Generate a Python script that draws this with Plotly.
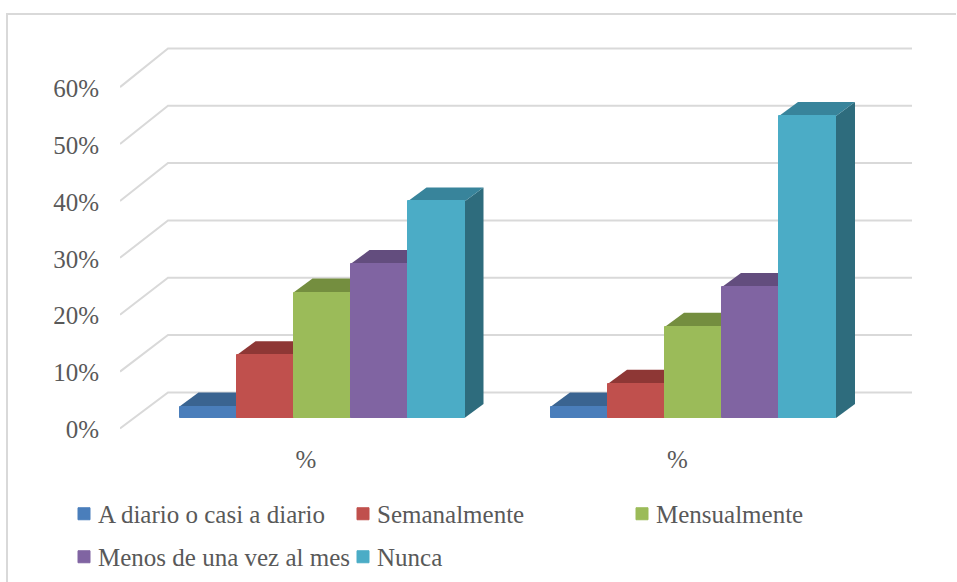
import plotly.graph_objects as go

# ---- data ----
groups = [0, 1]
group_labels = ["%", "%"]
series_names = ["A diario o casi a diario", "Semanalmente", "Mensualmente",
                "Menos de una vez al mes", "Nunca"]
diario = [2, 2]
semanal = [11, 6]
mensual = [22, 16]
menos = [27, 23]
nunca = [38, 53]
series_values = [diario, semanal, mensual, menos, nunca]
face_colors = ["#4A7EBB", "#C0504D", "#9BBB59", "#8064A2", "#4BACC6"]
top_colors = ["#3A6491", "#8E3735", "#748E3F", "#634D7E", "#38849B"]
side_colors = ["#315477", "#772E2C", "#617735", "#533F6A", "#2E6C7D"]
y_ticks = [0, 10, 20, 30, 40, 50, 60]
y_labels = ["0%", "10%", "20%", "30%", "40%", "50%", "60%"]

# ---- layout geometry (pixels of the 957x582 page) ----
W, H = 957, 582
L, R, T, B = 120, 930, 30, 432
GROUP_PX = 371.5
FRONT_UNIT_PX = 5.69     # pixels per 1 % on the front plane
BAR_UNIT_PX = 5.70       # pixels per 1 % on the bar plane
BACK_UNIT_PX = 5.733     # pixels per 1 % on the back wall
FRONT_X0, BAR_X0 = 306, 322   # pixel of group 0 on the front plane / bar plane
FRONT_Y0, BAR_Y0 = 428.5, 418  # pixel of 0 % on the front plane / bar plane
BACK_Y0 = 392.4          # pixel of 0 % on the back wall
BAR_FRAC = 57.0 / GROUP_PX
DX = 19 / GROUP_PX       # bar depth
DY = 14 / BAR_UNIT_PX
WALL_DX = 48 / GROUP_PX  # floor depth
WALL_END = (912 - FRONT_X0) / GROUP_PX

GRID = "#D9D9D9"
TEXT = "#595959"
FONT = "Liberation Serif"

xr_front = [(L - FRONT_X0) / GROUP_PX, (R - FRONT_X0) / GROUP_PX]
xr_bar = [(L - BAR_X0) / GROUP_PX, (R - BAR_X0) / GROUP_PX]
yr_front = [(FRONT_Y0 - B) / FRONT_UNIT_PX, (FRONT_Y0 - T) / FRONT_UNIT_PX]
yr_bar = [(BAR_Y0 - B) / BAR_UNIT_PX, (BAR_Y0 - T) / BAR_UNIT_PX]

fig = go.Figure()

# gridlines: side wall diagonal + back wall, on the front plane axes
for t in y_ticks:
    back = (FRONT_Y0 - (BACK_Y0 - BACK_UNIT_PX * t)) / FRONT_UNIT_PX
    fig.add_trace(go.Scatter(
        x=[xr_front[0], xr_front[0] + WALL_DX, WALL_END],
        y=[t, back, back],
        mode="lines", line=dict(color=GRID, width=2),
        hoverinfo="skip", showlegend=False, xaxis="x", yaxis="y"))

# bars: depth faces + front face, per series from back-left to right
n = len(series_values)
span = n * BAR_FRAC
for i, vals in enumerate(series_values):
    xs = [g - span / 2 + (i + 0.5) * BAR_FRAC for g in groups]
    for x, v in zip(xs, vals):
        x0, x1 = x - BAR_FRAC / 2, x + BAR_FRAC / 2
        fig.add_trace(go.Scatter(
            x=[x1, x1 + DX, x1 + DX, x1, x1], y=[0, DY, v + DY, v, 0],
            mode="lines", line=dict(width=0, color=side_colors[i]),
            fill="toself", fillcolor=side_colors[i],
            hoverinfo="skip", showlegend=False, xaxis="x2", yaxis="y2", zorder=2 * i))
        fig.add_trace(go.Scatter(
            x=[x0, x1, x1 + DX, x0 + DX, x0], y=[v, v, v + DY, v + DY, v],
            mode="lines", line=dict(width=0, color=top_colors[i]),
            fill="toself", fillcolor=top_colors[i],
            hoverinfo="skip", showlegend=False, xaxis="x2", yaxis="y2", zorder=2 * i))
    fig.add_trace(go.Bar(
        x=xs, y=vals, width=BAR_FRAC, name=series_names[i],
        marker=dict(color=face_colors[i], line=dict(width=1, color=face_colors[i])),
        xaxis="x2", yaxis="y2", zorder=2 * i + 1,
        legend="legend" if i < 3 else "legend2"))

axis_font = dict(family=FONT, size=25, color=TEXT)
legend_common = dict(
    orientation="h", xanchor="left", yanchor="middle",
    x=58 / W, bgcolor="rgba(0,0,0,0)", font=dict(family=FONT, size=25, color=TEXT),
    entrywidth=234, entrywidthmode="pixels", itemwidth=30, borderwidth=0, itemclick=False)

fig.update_layout(
    width=W, height=H, autosize=False,
    margin=dict(l=0, r=0, t=0, b=0, pad=0),
    paper_bgcolor="white", plot_bgcolor="rgba(0,0,0,0)",
    barmode="overlay", bargap=0,
    showlegend=True,
    legend=dict(y=1 - 513 / H, **legend_common),
    legend2=dict(y=1 - 556 / H, **legend_common),
    xaxis=dict(domain=[L / W, R / W], range=xr_front, tickmode="array",
               tickvals=groups, ticktext=group_labels, tickfont=axis_font,
               ticks="outside", ticklen=5, tickcolor="rgba(0,0,0,0)",
               showgrid=False, zeroline=False, showline=False, automargin=False,
               anchor="y", position=0),
    yaxis=dict(domain=[1 - B / H, 1 - T / H], range=yr_front, tickmode="array",
               tickvals=y_ticks, ticktext=y_labels, tickfont=axis_font,
               ticks="outside", ticklen=15, tickcolor="rgba(0,0,0,0)",
               ticklabelshift=1,
               showgrid=False, zeroline=False, showline=False, automargin=False,
               anchor="x"),
    xaxis2=dict(domain=[L / W, R / W], range=xr_bar, overlaying="x", visible=False,
                anchor="y2", fixedrange=True),
    yaxis2=dict(domain=[1 - B / H, 1 - T / H], range=yr_bar, overlaying="y", visible=False,
                anchor="x2", fixedrange=True),
    shapes=[dict(type="path", xref="paper", yref="paper",
                 path=f"M {7/W},0 L {7/W},{1-14/H} L {956/W},{1-14/H}",
                 line=dict(color=GRID, width=2), layer="below")],
)

post = ("document.body.style.margin='0';"
        "document.querySelectorAll('.legendpoints').forEach("
        "function(e){e.setAttribute('transform','translate(6,1)');});")
fig.write_html("out.html", post_script=post, config=dict(displayModeBar=False))
